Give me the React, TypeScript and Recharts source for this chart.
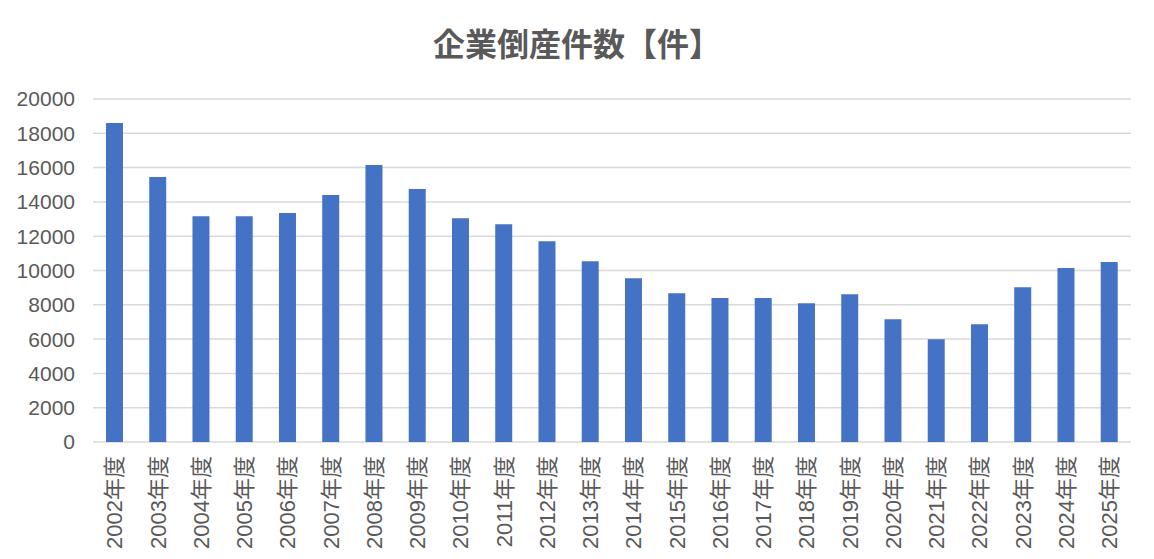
import React from "react";
import { Bar, BarChart, CartesianGrid, XAxis, YAxis } from "recharts";

const years = [
  "2002年度", "2003年度", "2004年度", "2005年度", "2006年度", "2007年度", "2008年度", "2009年度",
  "2010年度", "2011年度", "2012年度", "2013年度", "2014年度", "2015年度", "2016年度", "2017年度",
  "2018年度", "2019年度", "2020年度", "2021年度", "2022年度", "2023年度", "2024年度", "2025年度",
];
const bankruptcies = [
  18600, 15450, 13170, 13170, 13350, 14400, 16150, 14750, 13050, 12700, 11710, 10540,
  9550, 8680, 8390, 8390, 8090, 8620, 7160, 5990, 6870, 9030, 10140, 10490,
];
const yTicks = [0, 2000, 4000, 6000, 8000, 10000, 12000, 14000, 16000, 18000, 20000];

const data = years.map((year, i) => ({ year, count: bankruptcies[i] }));

const font = "'Liberation Sans', 'Noto Sans CJK JP', sans-serif";
const titleFont = "'Noto Sans CJK JP', sans-serif";
const ink = "#595959";

function YearTick({ x, y, payload }: any) {
  return (
    <text x={x} y={y + 6} transform={`rotate(-90 ${x} ${y + 6})`} textAnchor="end" dy="0.35em" fill={ink} fontSize={22} fontFamily={font}>
      {payload.value}
    </text>
  );
}

export default function App() {
  return (
    <div style={{ position: "fixed", left: 0, top: 0, width: 1154, height: 559, background: "#fff" }}>
      <div style={{ position: "absolute", left: 0, right: 0, top: 22, textAlign: "center", fontFamily: titleFont, fontWeight: 700, fontSize: 32, color: ink, lineHeight: "40px" }}>
        企業倒産件数【件】
      </div>
      <BarChart width={1154} height={559} data={data} margin={{ top: 99, right: 23, bottom: 0, left: 0 }} barCategoryGap="30%">
        <CartesianGrid vertical={false} stroke="#d9d9d9" strokeWidth={1.5} />
        <XAxis dataKey="year" interval={0} height={117} axisLine={false} tickLine={false} tick={<YearTick />} />
        <YAxis width={93} domain={[0, 20000]} ticks={yTicks} axisLine={false} tickLine={false} tickMargin={12} tick={{ fill: ink, fontSize: 21, fontFamily: font }} />
        <Bar dataKey="count" fill="#4472c4" isAnimationActive={false} />
      </BarChart>
    </div>
  );
}
